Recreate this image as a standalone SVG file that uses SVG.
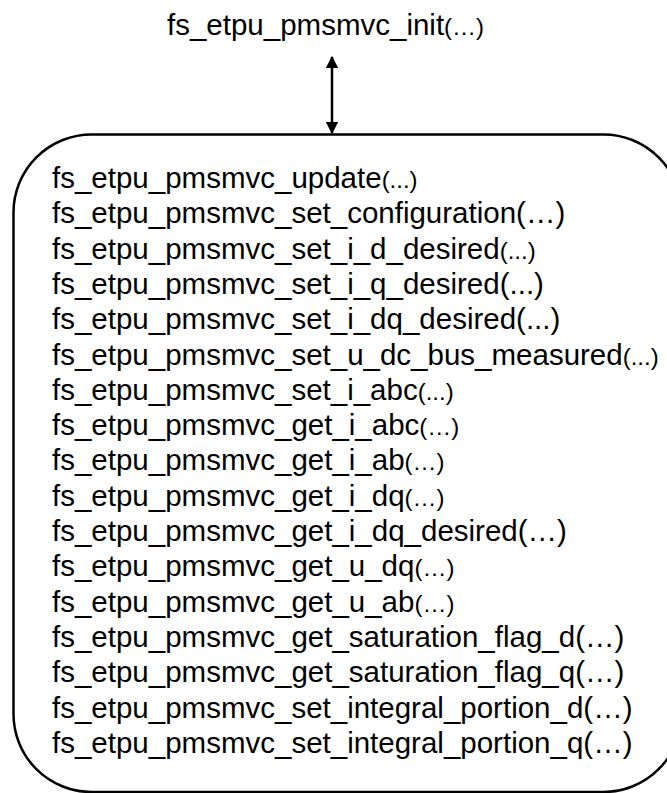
<svg xmlns="http://www.w3.org/2000/svg" width="667" height="793" viewBox="0 0 667 793">
<defs>
<style>
text{font-family:"Liberation Sans",Arial,sans-serif;font-size:29.5px;fill:#000}
.s{font-size:24px}
.box{fill:#fff;stroke:#000;stroke-width:2.5}
.conn{stroke:#000;stroke-width:2.5;fill:none}
</style>
<marker id="ah" viewBox="0 0 10 10" refX="9" refY="5" markerWidth="5" markerHeight="5" orient="auto-start-reverse" markerUnits="strokeWidth">
<path d="M0,0 L10,5 L0,10 z" fill="#000"/>
</marker>
</defs>
<rect width="667" height="793" fill="#fff"/>
<g id="init">
<text x="167" y="35">fs_etpu_pmsmvc_init<tspan class="s">(…)</tspan></text>
</g>
<g id="connectors">
<line class="conn" x1="332" y1="57" x2="332" y2="133" marker-start="url(#ah)" marker-end="url(#ah)"/>
</g>
<g id="api">
<rect class="box" x="13.5" y="134.5" width="668" height="657.5" rx="78" ry="78"/>
<text x="52" y="188">fs_etpu_pmsmvc_update<tspan class="s">(...)</tspan></text>
<text x="52" y="223.3">fs_etpu_pmsmvc_set_configuration(…)</text>
<text x="52" y="258.6">fs_etpu_pmsmvc_set_i_d_desired<tspan class="s">(...)</tspan></text>
<text x="52" y="293.9">fs_etpu_pmsmvc_set_i_q_desired(...)</text>
<text x="52" y="329.2">fs_etpu_pmsmvc_set_i_dq_desired(...)</text>
<text x="52" y="364.5">fs_etpu_pmsmvc_set_u_dc_bus_measured<tspan class="s">(...)</tspan></text>
<text x="52" y="399.8">fs_etpu_pmsmvc_set_i_abc<tspan class="s">(...)</tspan></text>
<text x="52" y="435.1">fs_etpu_pmsmvc_get_i_abc<tspan class="s">(…)</tspan></text>
<text x="52" y="470.4">fs_etpu_pmsmvc_get_i_ab<tspan class="s">(…)</tspan></text>
<text x="52" y="505.7">fs_etpu_pmsmvc_get_i_dq<tspan class="s">(…)</tspan></text>
<text x="52" y="541">fs_etpu_pmsmvc_get_i_dq_desired(…)</text>
<text x="52" y="576.3">fs_etpu_pmsmvc_get_u_dq<tspan class="s">(…)</tspan></text>
<text x="52" y="611.6">fs_etpu_pmsmvc_get_u_ab<tspan class="s">(…)</tspan></text>
<text x="52" y="646.9">fs_etpu_pmsmvc_get_saturation_flag_d(…)</text>
<text x="52" y="682.2">fs_etpu_pmsmvc_get_saturation_flag_q(…)</text>
<text x="52" y="717.5">fs_etpu_pmsmvc_set_integral_portion_d(…)</text>
<text x="52" y="752.8">fs_etpu_pmsmvc_set_integral_portion_q(…)</text>
</g>
</svg>
